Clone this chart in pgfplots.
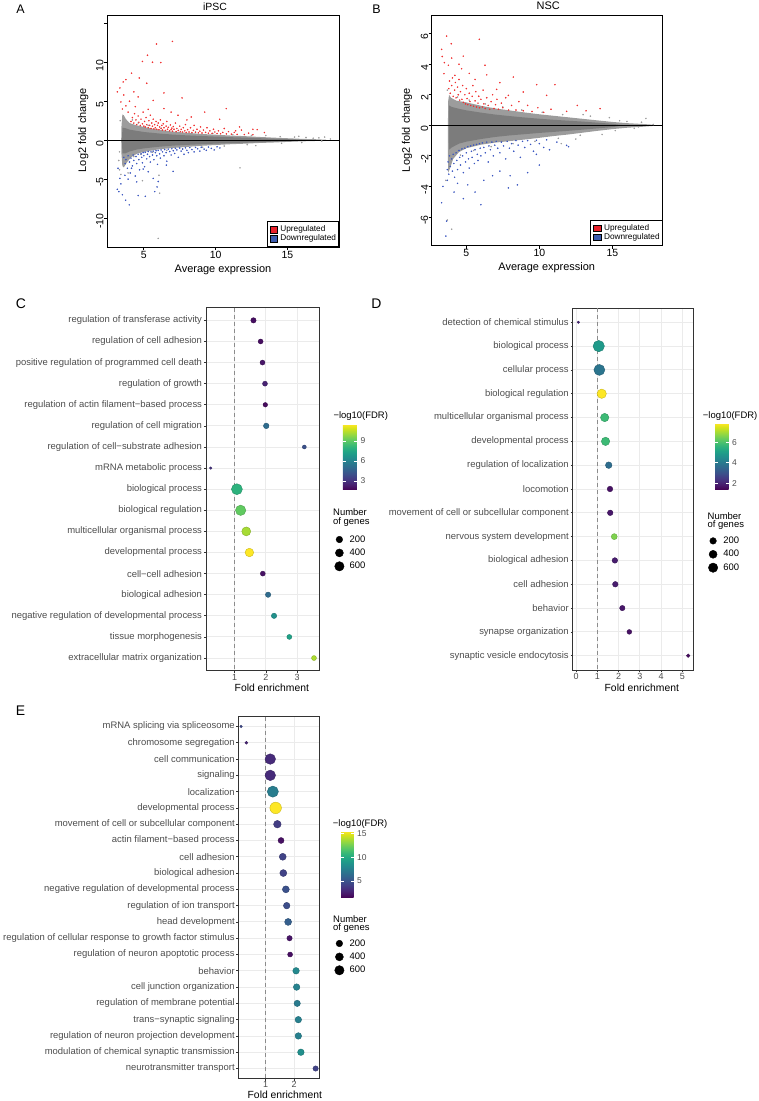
\documentclass[border=0pt]{standalone}
\usepackage{fontspec}
\setmainfont{Liberation Sans}
\usepackage{pgfplots}
\pgfplotsset{compat=1.18}
\usepackage{pgfplotstable}

\definecolor{gg20}{HTML}{333333}
\definecolor{gg30}{HTML}{4D4D4D}
\definecolor{gggrid}{HTML}{EBEBEB}
\definecolor{dashgray}{HTML}{8C8C8C}
\definecolor{upred}{HTML}{F03030}
\definecolor{downblue}{HTML}{3A56C0}
\definecolor{cloudout}{HTML}{9C9C9C}
\definecolor{cloudin}{HTML}{7C7C7C}
\definecolor{legred}{HTML}{E8202A}
\definecolor{legblue}{HTML}{3B5BAE}

\newcommand{\fsz}[1]{\fontsize{#1}{#1}\selectfont}

% ---------- GO enrichment tables: y(row from top) fe(fold enrichment) fdr(-log10 FDR) n(genes)
\pgfplotstableread{
y fe fdr n
1 1.60 2.0 150
2 1.83 2.0 129
3 1.89 2.2 129
4 1.97 2.6 129
5 1.98 1.9 109
6 2.01 5.1 162
7 3.23 4.1 83
8 0.23 3.1 35
9 1.07 8.0 625
10 1.19 9.1 558
11 1.37 10.2 418
12 1.47 11.5 382
13 1.90 2.1 129
14 2.07 5.1 150
15 2.26 6.6 150
16 2.75 7.3 129
17 3.54 10.3 129
}\tblC

\pgfplotstableread{
y fe fdr n
1 0.11 2.1 30
2 1.07 4.9 670
3 1.10 3.9 625
4 1.21 7.85 456
5 1.35 5.8 364
6 1.39 5.8 364
7 1.54 3.7 225
8 1.60 1.7 162
9 1.61 1.8 162
10 1.80 6.6 186
11 1.83 1.9 162
12 1.85 1.9 162
13 2.18 1.8 150
14 2.51 1.7 119
15 5.28 1.6 67
}\tblD

\pgfplotstableread{
y fe fdr n
1 0.13 4.6 35
2 0.32 2.9 46
3 1.16 3.2 580
4 1.16 3.2 580
5 1.25 7.4 648
6 1.35 15.57 695
7 1.41 4.0 298
8 1.54 2.1 186
9 1.60 4.3 253
10 1.62 4.3 253
11 1.71 5.0 253
12 1.74 4.8 225
13 1.79 5.7 253
14 1.84 2.2 150
15 1.86 2.0 129
16 2.07 8.1 225
17 2.09 7.7 225
18 2.11 7.3 212
19 2.15 7.6 225
20 2.15 7.6 225
21 2.24 8.5 225
22 2.76 4.3 150
}\tblE

\pgfplotsset{
  maplot/.style={
    anchor=south west, scale only axis,
    axis line style={draw=black, line width=0.9bp},
    tick style={draw=black, line width=0.8bp},
    major tick length=3.2bp,
    tick align=outside,
    xtick pos=left, ytick pos=left,
    ticklabel style={font=\fsz{10.5}, text=black},
    xticklabel style={anchor=north, inner sep=0pt, yshift=-0.5bp},
    yticklabel style={rotate=90, anchor=south, inner sep=0pt, xshift=-3bp},
    label style={font=\fsz{11}, text=black},
    xtick={5,10,15}, xticklabels={5,10,15},
    xlabel={Average expression},
    ylabel={Log2 fold change},
    legend style={at={(1,0)}, anchor=south east, draw=black, line width=0.8bp, fill=white,
      inner xsep=2.6bp, inner ysep=3.6bp, row sep=0pt, column sep=2.4bp,
      nodes={inner sep=0pt, minimum height=9bp, font=\fsz{8.3}, text=black}},
    legend cell align=left,
  },
  cbar/.style={
    scale only axis,
    at={(parent axis.north east)}, anchor=north west,
    ytick pos=both, yticklabel pos=right,
    tick align=inside,
    major tick length=2.8bp,
    tick style={draw=white, line width=0.7bp},
    axis line style={draw=none},
    yticklabel style={font=\fsz{8.5}, text=gg30, inner sep=0pt, anchor=west, xshift=3.5bp},
    /pgf/number format/assume math mode=true,
  },
  ggdot/.style={
    anchor=south west, scale only axis,
    y dir=reverse,
    axis line style={draw=gg20, line width=0.9bp},
    grid=major, major grid style={draw=gggrid, line width=0.9bp},
    tick style={draw=gg20, line width=0.7bp},
    major tick length=2.2bp,
    tick align=outside,
    xtick pos=left, ytick pos=left,
    yticklabel style={font=\fsz{9.5}, text=gg30, inner sep=0pt, anchor=east, xshift=-1.6bp},
    xticklabel style={font=\fsz{9}, text=gg30, inner sep=0pt, anchor=north, yshift=-0.8bp},
    /pgf/number format/assume math mode=true,
    xlabel={Fold enrichment},
    xlabel style={font=\fsz{10.4}, text=black, anchor=center},
    colormap/viridis,
    colorbar,
    legend style={draw=none, fill=none, inner sep=0pt, column sep=5.3bp, row sep=0pt, anchor=north west,
      nodes={inner sep=0pt, minimum height=13.4bp, font=\fsz{9.5}, text=black}},
    legend cell align=left,
  },
  dots/.style={forget plot, scatter, only marks, mark=*, scatter src=explicit,
    visualization depends on={0.22*sqrt(\thisrow{n}) \as \rr},
    scatter/@pre marker code/.append style={/tikz/mark size=\rr}},
  vline/.style={forget plot, draw=dashgray, line width=1bp, dash pattern=on 4bp off 3bp},
  sizeleg/.code={
    \addlegendimage{legend image code/.code={\fill[black] (0bp,0bp) circle (3.3bp);}}
    \addlegendentry{200}
    \addlegendimage{legend image code/.code={\fill[black] (0bp,0bp) circle (4.0bp);}}
    \addlegendentry{400}
    \addlegendimage{legend image code/.code={\fill[black] (0bp,0bp) circle (4.7bp);}}
    \addlegendentry{600}
  },
}

\begin{document}
\begin{tikzpicture}
\path[use as bounding box] (0,0) rectangle (759bp,1101bp);

% ---------------- Panel A: iPSC MA plot
\begin{axis}[maplot, at={(107bp,854bp)}, width=232bp, height=232bp,
  xmin=2.43, xmax=18.6, ymin=-13.7, ymax=16.06,
  ytick={-10,-5,0,5,10,15}, yticklabels={-10,-5,0,5,10,{}},
  xlabel style={at={(axis description cs:0.5,-0.0961)}, anchor=center},
  ylabel style={at={(axis description cs:-0.102,0.504)}, anchor=center},
]
\addplot[forget plot, fill=cloudout, draw=none] coordinates {
(3.42,0) (3.44,1.8) (3.5,3.3) (3.6,3.2) (3.75,2.7) (4.0,2.2) (4.4,1.95) (5.0,1.7) (5.5,1.5) (6.0,1.35) (7.0,1.1) (8.0,0.95) (9.0,0.8) (10.0,0.7) (11.0,0.6) (12.0,0.52) (13.0,0.42) (14.0,0.33) (15.0,0.25) (16.0,0.17) (17.0,0.12) (17.7,0.06) (17.7,-0.05) (17.0,-0.1) (16.0,-0.15) (15.0,-0.22) (14.0,-0.3) (13.0,-0.36) (12.0,-0.45) (11.0,-0.52) (10.0,-0.62) (9.0,-0.72) (8.0,-0.86) (7.0,-1.0) (6.0,-1.18) (5.0,-1.5) (4.5,-1.75) (4.1,-2.2) (3.8,-2.9) (3.6,-3.5) (3.5,-3.3) (3.44,-1.8)};
\addplot[forget plot, fill=cloudin, draw=none] coordinates {
(3.48,0) (3.5,1.6) (3.7,1.55) (4.0,1.35) (4.5,1.2) (5.0,1.05) (6.0,0.87) (7.0,0.72) (8.0,0.62) (9.0,0.54) (10.0,0.46) (11.0,0.39) (12.0,0.33) (13.0,0.26) (14.0,0.19) (15.0,0.13) (16.0,0.06) (16.4,0) (16.0,-0.07) (15.0,-0.13) (14.0,-0.19) (13.0,-0.25) (12.0,-0.31) (11.0,-0.37) (10.0,-0.44) (9.0,-0.52) (8.0,-0.6) (7.0,-0.7) (6.0,-0.85) (5.0,-1.05) (4.5,-1.2) (4.0,-1.45) (3.7,-1.7) (3.5,-1.7)};
\addplot[forget plot, only marks, mark=*, mark size=0.55bp, color=cloudout] coordinates {
(16.3,0.35) (16.8,0.25) (17.2,0.3) (17.6,0.4) (15.5,0.4) (16.0,-0.3) (14.5,0.45) (15.8,0.5) (17.4,-0.1) (18.0,0.15) (3.3,-3.8) (3.25,-2.6) (3.4,-4.4) (3.9,-4.2) (4.9,-5.2) (6.0,-12.6) (6.05,-4.5) (6.1,-6.8) (3.35,2.5) (3.3,-1.5) (13.5,0.6) (12.8,-0.7) (11.7,-3.55)
(4.2,2.6) (4.6,2.2) (5.3,1.9) (6.2,1.55) (7.4,1.25) (8.6,1.05) (9.8,0.85) (11.2,0.7) (12.5,0.6) (4.3,-2.1) (4.8,-1.8) (5.6,-1.55) (6.6,-1.3) (7.7,-1.1) (9.1,-0.9) (10.6,-0.75) (12.2,-0.58) (14.6,-0.4)};
\addplot[forget plot, black, line width=0.9bp] coordinates {(2.43,0) (18.6,0)};
\addplot[forget plot, only marks, mark=*, mark size=0.55bp, color=upred] coordinates {
(6.99,12.67) (5.88,12.34) (5.25,10.9) (4.9,10.1) (5.6,10.0) (6.18,9.96) (4.14,8.6) (3.75,7.77) (3.56,7.47) (3.33,6.7) (3.15,6.2) (5.2,7.3) (4.68,7.98) (6.4,6.06) (7.66,5.42) (4.3,6.2) (4.6,5.55) (5.65,5.1) (3.4,4.9) (3.75,4.4) (5.3,3.96) (6.4,4.05) (9.24,3.6) (10.74,4.05) (7.38,3.2) (8.3,2.98) (10.28,2.68) (11.67,1.7) (12.6,1.4) (13.4,0.98) (11.4,1.2) (3.6,5.8) (3.9,3.6) (4.0,5.0) (4.4,4.3) (6.9,3.6) (8.0,2.6) (3.5,4.0)
(4.1,2.4) (4.2,2.9) (4.3,2.2) (4.35,3.4) (4.45,2.6) (4.5,2.0) (4.6,3.1) (4.65,2.3) (4.75,1.9) (4.8,2.7) (4.9,2.1) (4.95,3.6) (5.0,1.8)
(5.05,2.4) (5.1,1.7) (5.15,2.9) (5.2,2.0) (5.3,1.6) (5.35,2.5) (5.4,1.9) (5.45,3.2) (5.5,1.5) (5.55,2.2) (5.6,1.8) (5.65,2.7) (5.7,1.45) (5.75,2.0) (5.8,1.6) (5.85,2.4) (5.9,1.4) (5.95,1.9)
(6.0,2.2) (6.05,1.35) (6.1,1.7) (6.15,2.6) (6.2,1.5) (6.25,1.9) (6.3,1.3) (6.35,2.1) (6.4,1.6) (6.5,1.25) (6.55,1.8) (6.6,2.4) (6.65,1.4) (6.7,1.65) (6.8,1.2) (6.85,1.95) (6.9,1.35) (6.95,1.55)
(7.0,1.15) (7.05,1.75) (7.1,1.4) (7.2,2.2) (7.25,1.1) (7.3,1.5) (7.4,1.25) (7.5,1.8) (7.55,1.1) (7.6,1.4) (7.7,1.05) (7.75,1.6) (7.85,1.2) (7.9,2.0) (7.95,1.0)
(8.05,1.35) (8.15,1.05) (8.25,1.6) (8.35,0.98) (8.45,1.25) (8.5,1.9) (8.6,1.0) (8.7,1.4) (8.8,0.95) (8.9,1.15) (8.95,1.7)
(9.05,0.92) (9.15,1.3) (9.3,1.0) (9.4,1.6) (9.5,0.9) (9.6,1.2) (9.75,0.88) (9.85,1.4) (9.95,1.05)
(10.1,0.85) (10.2,1.2) (10.35,0.82) (10.5,1.0) (10.6,1.5) (10.75,0.8) (10.9,1.1)
(11.1,0.78) (11.3,1.0) (11.5,0.75) (11.8,1.3) (12.0,0.72) (12.3,0.9) (12.6,0.7) (12.9,1.35)};
\addplot[forget plot, only marks, mark=*, mark size=0.55bp, color=downblue] coordinates {
(3.15,-6.3) (3.26,-6.6) (3.5,-7.0) (3.73,-7.7) (3.98,-8.3) (4.6,-7.1) (5.76,-6.6) (5.92,-6.0) (4.5,-5.35) (3.68,-4.5) (3.2,-3.6) (3.33,-4.9) (4.14,-3.6) (4.95,-3.7) (5.3,-4.05) (5.65,-4.9) (7.04,-4.0) (6.57,-3.2) (3.4,-5.6) (3.9,-5.0) (6.0,-5.3) (5.1,-7.2)
(3.6,-2.2) (3.7,-3.0) (3.75,-2.5) (3.85,-3.6) (3.9,-2.0) (4.0,-2.8) (4.05,-4.2) (4.1,-2.3) (4.2,-3.3) (4.25,-1.9) (4.3,-2.6) (4.4,-4.6) (4.45,-2.1) (4.5,-3.0) (4.6,-1.8) (4.65,-2.5) (4.7,-3.8) (4.8,-1.75) (4.85,-2.2) (4.9,-2.9) (4.95,-1.6)
(5.0,-2.0) (5.05,-3.4) (5.1,-1.55) (5.2,-2.4) (5.25,-1.8) (5.3,-1.45) (5.4,-2.1) (5.45,-2.8) (5.5,-1.5) (5.6,-1.9) (5.65,-1.4) (5.7,-2.5) (5.8,-1.6) (5.85,-1.35) (5.9,-2.0) (5.95,-3.1)
(6.0,-1.3) (6.1,-1.75) (6.15,-2.3) (6.2,-1.25) (6.3,-1.5) (6.4,-2.0) (6.45,-1.2) (6.55,-1.6) (6.6,-2.7) (6.7,-1.15) (6.8,-1.45) (6.9,-1.9) (6.95,-1.1)
(7.05,-1.35) (7.15,-1.7) (7.2,-1.05) (7.3,-1.25) (7.4,-2.2) (7.5,-1.0) (7.6,-1.4) (7.7,-1.15) (7.8,-1.8) (7.9,-0.98)
(8.0,-1.3) (8.1,-1.6) (8.2,-0.95) (8.35,-1.2) (8.5,-1.5) (8.6,-0.93) (8.75,-1.1) (8.9,-1.4)
(9.0,-0.9) (9.2,-1.15) (9.35,-1.3) (9.5,-0.88) (9.7,-1.05) (9.9,-1.25) (10.1,-0.85) (10.3,-1.0)};
\addlegendimage{legend image code/.code={\draw[fill=legred, draw=black, line width=0.5bp] (-3.85bp,-3.35bp) rectangle (3.85bp,3.35bp);}}
\addlegendentry{Upregulated}
\addlegendimage{legend image code/.code={\draw[fill=legblue, draw=black, line width=0.5bp] (-3.85bp,-3.35bp) rectangle (3.85bp,3.35bp);}}
\addlegendentry{Downregulated}
\end{axis}

% ---------------- Panel B: NSC MA plot
\begin{axis}[maplot, at={(431.7bp,855.3bp)}, width=231bp, height=230.7bp,
  xmin=2.63, xmax=18.45, ymin=-7.88, ymax=7.22,
  ytick={-6,-4,-2,0,2,4,6}, yticklabels={-6,-4,-2,0,2,4,6},
  xlabel style={at={(axis description cs:0.498,-0.0936)}, anchor=center},
  ylabel style={at={(axis description cs:-0.107,0.5015)}, anchor=center},
]
\addplot[forget plot, fill=cloudout, draw=none] coordinates {
(3.74,0) (3.76,1.6) (3.82,2.0) (3.95,1.8) (4.3,1.62) (5.0,1.5) (6.0,1.28) (7.0,1.1) (8.0,0.97) (9.0,0.84) (10.0,0.72) (11.0,0.62) (12.0,0.52) (13.0,0.42) (14.0,0.32) (15.0,0.22) (16.0,0.14) (17.0,0.09) (17.8,0.04) (17.8,-0.04) (17.0,-0.1) (16.0,-0.16) (15.0,-0.25) (14.0,-0.36) (13.0,-0.48) (12.0,-0.6) (11.0,-0.7) (10.0,-0.82) (9.0,-0.93) (8.0,-1.03) (7.0,-1.13) (6.0,-1.27) (5.0,-1.5) (4.5,-1.75) (4.1,-2.2) (3.85,-2.9) (3.76,-3.1) (3.74,-2.0)};
\addplot[forget plot, fill=cloudin, draw=none] coordinates {
(3.8,0) (3.82,1.3) (4.0,1.2) (4.5,1.08) (5.0,0.98) (6.0,0.83) (7.0,0.7) (8.0,0.6) (9.0,0.51) (10.0,0.43) (11.0,0.36) (12.0,0.3) (13.0,0.24) (14.0,0.17) (15.0,0.1) (15.8,0) (15.0,-0.12) (14.0,-0.2) (13.0,-0.28) (12.0,-0.36) (11.0,-0.43) (10.0,-0.5) (9.0,-0.58) (8.0,-0.66) (7.0,-0.76) (6.0,-0.9) (5.0,-1.07) (4.5,-1.2) (4.0,-1.45) (3.82,-1.6)};
\addplot[forget plot, only marks, mark=*, mark size=0.55bp, color=cloudout] coordinates {
(15.5,0.3) (16.0,0.25) (16.5,-0.2) (17.0,0.2) (17.3,0.45) (17.8,0.05) (14.8,0.5) (15.2,-0.35) (16.8,-0.1) (13.5,0.6) (3.7,-6.2) (4.0,-6.8) (3.6,-3.6) (3.7,2.3) (12.5,-0.9) (13.0,0.7) (14.3,-0.6) (11.5,-1.2)
(4.4,1.85) (5.2,1.65) (6.3,1.4) (7.5,1.2) (8.8,1.0) (10.2,0.85) (11.6,0.7) (4.6,-1.95) (5.5,-1.65) (6.7,-1.4) (8.2,-1.2) (9.7,-1.05) (11.3,-0.85) (12.8,-0.65)};
\addplot[forget plot, black, line width=0.9bp] coordinates {(2.63,0) (18.45,0)};
\addplot[forget plot, only marks, mark=*, mark size=0.55bp, color=upred] coordinates {
(3.65,5.84) (5.89,5.63) (3.31,4.97) (4.79,4.53) (3.97,5.34) (3.47,3.38) (3.77,3.93) (4.22,3.27) (4.68,3.7) (6.28,3.93) (7.3,2.79) (8.22,3.16) (9.82,2.66) (11.07,2.66) (10.5,1.96) (8.9,2.18) (7.08,2.35) (7.88,1.96) (14.16,1.09) (11.87,0.91) (3.35,4.5) (3.5,4.1) (4.0,4.4) (4.5,4.0) (5.2,3.4) (5.6,3.0) (6.4,3.3) (12.6,1.3) (13.2,0.95)
(3.8,2.4) (3.85,2.9) (3.9,2.1) (4.0,2.6) (4.05,3.1) (4.1,1.9) (4.2,2.3) (4.25,2.8) (4.3,1.8) (4.4,2.5) (4.45,2.0) (4.5,3.0) (4.55,1.65) (4.6,2.2) (4.7,1.7) (4.75,2.6) (4.8,1.5) (4.9,2.0) (4.95,1.4) (5.0,2.4) (5.05,1.75) (5.1,1.35) (5.2,2.1) (5.25,1.55) (5.3,1.3) (5.4,1.9) (5.45,2.6) (5.5,1.25) (5.6,1.6) (5.65,2.2) (5.7,1.2) (5.8,1.45) (5.85,1.9) (5.9,1.15) (6.0,1.7) (6.1,1.2) (6.15,2.3) (6.2,1.4) (6.3,1.1) (6.4,1.8) (6.5,1.3) (6.6,1.05) (6.7,1.55) (6.8,2.0) (6.9,1.1) (7.0,1.35) (7.1,1.7) (7.2,1.05) (7.4,1.45) (7.5,1.15) (7.7,1.8) (7.9,1.0) (8.1,1.3) (8.4,1.0) (8.6,1.55) (8.9,0.95) (9.2,1.3) (9.5,0.9) (9.9,1.15) (10.3,0.85) (10.8,1.05)};
\addplot[forget plot, only marks, mark=*, mark size=0.55bp, color=downblue] coordinates {
(3.6,-7.25) (3.31,-5.07) (3.65,-6.27) (4.16,-4.37) (4.8,-4.8) (5.6,-4.37) (7.88,-4.1) (8.5,-3.9) (3.4,-4.0) (3.7,-3.6) (4.4,-3.8) (5.1,-3.9) (6.2,-3.6) (6.8,-3.3) (7.3,-3.0) (8.0,-3.3) (9.2,-3.1) (10.0,-2.6) (11.87,-1.31) (11.2,-1.1) (12.0,-1.4) (10.7,-1.6) (9.8,-1.9) (6.0,-5.2)
(3.7,-2.9) (3.75,-2.4) (3.8,-3.2) (3.85,-2.0) (3.9,-2.7) (4.0,-2.2) (4.05,-3.0) (4.1,-1.9) (4.15,-2.5) (4.2,-3.4) (4.3,-1.8) (4.35,-2.3) (4.4,-2.9) (4.5,-1.65) (4.55,-2.1) (4.6,-2.6) (4.7,-1.55) (4.75,-2.0) (4.8,-3.1) (4.9,-1.5) (4.95,-2.4) (5.0,-1.8) (5.1,-1.4) (5.15,-2.2) (5.2,-2.8) (5.3,-1.35) (5.35,-1.7) (5.4,-2.1) (5.5,-1.3) (5.55,-2.5) (5.6,-1.6) (5.7,-1.25) (5.75,-1.9) (5.8,-2.3) (5.9,-1.2) (5.95,-1.5) (6.0,-2.0) (6.1,-1.15) (6.2,-1.45) (6.3,-1.8) (6.4,-1.1) (6.5,-2.4) (6.55,-1.35) (6.65,-1.6) (6.75,-1.1) (6.85,-2.0) (6.95,-1.3) (7.05,-1.05) (7.15,-1.5) (7.3,-1.8) (7.4,-1.1) (7.55,-1.35) (7.7,-2.2) (7.8,-1.05) (7.95,-1.5) (8.1,-1.2) (8.25,-1.7) (8.4,-1.0) (8.55,-1.3) (8.7,-2.1) (8.85,-1.05) (9.0,-1.45) (9.2,-1.0) (9.4,-1.25) (9.6,-1.7) (9.8,-0.98) (10.0,-1.2) (10.3,-1.45) (10.5,-0.95)};
\addlegendimage{legend image code/.code={\draw[fill=legred, draw=black, line width=0.5bp] (-3.85bp,-3.35bp) rectangle (3.85bp,3.35bp);}}
\addlegendentry{Upregulated}
\addlegendimage{legend image code/.code={\draw[fill=legblue, draw=black, line width=0.5bp] (-3.85bp,-3.35bp) rectangle (3.85bp,3.35bp);}}
\addlegendentry{Downregulated}
\end{axis}

% ---------------- Panel C
\begin{axis}[ggdot, at={(206bp,430.3bp)}, width=113.3bp, height=363bp,
  xmin=0.08, xmax=3.71, ymin=0.4, ymax=17.6,
  xtick={1,2,3},
  ytick={1,...,17},
  yticklabels={regulation of transferase activity, regulation of cell adhesion, positive regulation of programmed cell death, regulation of growth, regulation of actin filament−based process, regulation of cell migration, regulation of cell−substrate adhesion, mRNA metabolic process, biological process, biological regulation, multicellular organismal process, developmental process, cell−cell adhesion, biological adhesion, negative regulation of developmental process, tissue morphogenesis, extracellular matrix organization},
  xlabel style={at={(axis description cs:0.581,0)}, yshift=-17bp},
  point meta min=1.65, point meta max=11.5,
  colorbar style={cbar, xshift=15bp, yshift=-116.6bp, width=14bp, height=65.7bp, ytick={3,6,9}},
  legend style={at={(1.1324,0.3804)}},
]
\addplot[vline] coordinates {(1,0.4) (1,17.6)};
\addplot[dots] table[x=fe, y=y, meta=fdr] \tblC;
\pgfplotsset{sizeleg}
\end{axis}

% ---------------- Panel D
\begin{axis}[ggdot, at={(572.7bp,431bp)}, width=120.6bp, height=362bp,
  xmin=-0.155, xmax=5.52, ymin=0.4, ymax=15.6,
  xtick={0,1,2,3,4,5},
  ytick={1,...,15},
  yticklabels={detection of chemical stimulus, biological process, cellular process, biological regulation, multicellular organismal process, developmental process, regulation of localization, locomotion, movement of cell or subcellular component, nervous system development, biological adhesion, cell adhesion, behavior, synapse organization, synaptic vesicle endocytosis},
  xlabel style={at={(axis description cs:0.573,0)}, yshift=-18bp},
  point meta min=1.41, point meta max=7.85,
  colorbar style={cbar, xshift=13.4bp, yshift=-115.3bp, width=13.3bp, height=66bp, ytick={2,4,6}},
  legend style={at={(1.1219,0.3757)}},
]
\addplot[vline] coordinates {(1,0.4) (1,15.6)};
\addplot[dots] table[x=fe, y=y, meta=fdr] \tblD;
\pgfplotsset{sizeleg}
\end{axis}

% ---------------- Panel E
\begin{axis}[ggdot, at={(238.7bp,22.7bp)}, width=80.6bp, height=361.6bp,
  xmin=0.046, xmax=2.89, ymin=0.4, ymax=22.6,
  xtick={1,2},
  ytick={1,...,22},
  yticklabels={mRNA splicing via spliceosome, chromosome segregation, cell communication, signaling, localization, developmental process, movement of cell or subcellular component, actin filament−based process, cell adhesion, biological adhesion, negative regulation of developmental process, regulation of ion transport, head development, regulation of cellular response to growth factor stimulus, regulation of neuron apoptotic process, behavior, cell junction organization, regulation of membrane potential, trans−synaptic signaling, regulation of neuron projection development, modulation of chemical synaptic transmission, neurotransmitter transport},
  xlabel style={at={(axis description cs:0.572,0)}, yshift=-16bp},
  point meta min=1.5, point meta max=15.57,
  colorbar style={cbar, xshift=13.4bp, yshift=-114.3bp, width=12.3bp, height=66.7bp, ytick={5,10,15}},
  legend style={at={(1.1861,0.3919)}},
]
\addplot[vline] coordinates {(1,0.4) (1,22.6)};
\addplot[dots] table[x=fe, y=y, meta=fdr] \tblE;
\pgfplotsset{sizeleg}
\end{axis}

% ---------------- titles, legend titles and panel letters
\node[anchor=base, inner sep=0pt, font=\fsz{10.5}] at (215bp,1090.5bp) {iPSC};
\node[anchor=base, inner sep=0pt, font=\fsz{11}] at (548.3bp,1091bp) {NSC};
\node[anchor=base west, inner sep=0pt, font=\fsz{9.5}] at (333.3bp,682.3bp) {−log10(FDR)};
\node[anchor=base west, inner sep=0pt, font=\fsz{9.5}] at (702.7bp,682.7bp) {−log10(FDR)};
\node[anchor=base west, inner sep=0pt, font=\fsz{9.5}] at (332.7bp,274.7bp) {−log10(FDR)};
\node[anchor=base west, inner sep=0pt, font=\fsz{9.5}] at (333bp,585bp) {Number};
\node[anchor=base west, inner sep=0pt, font=\fsz{9.5}] at (333bp,576bp) {of genes};
\node[anchor=base west, inner sep=0pt, font=\fsz{9.5}] at (707.5bp,581.3bp) {Number};
\node[anchor=base west, inner sep=0pt, font=\fsz{9.5}] at (707.5bp,573.2bp) {of genes};
\node[anchor=base west, inner sep=0pt, font=\fsz{9.5}] at (333bp,178.9bp) {Number};
\node[anchor=base west, inner sep=0pt, font=\fsz{9.5}] at (333bp,170.2bp) {of genes};

\node[anchor=base, inner sep=0pt, font=\fsz{12.5}] at (20.5bp,1087.7bp) {A};
\node[anchor=base, inner sep=0pt, font=\fsz{12.5}] at (376.5bp,1087.7bp) {B};
\node[anchor=base, inner sep=0pt, font=\fsz{14}] at (20.8bp,792.7bp) {C};
\node[anchor=base, inner sep=0pt, font=\fsz{14}] at (376.5bp,792.7bp) {D};
\node[anchor=base, inner sep=0pt, font=\fsz{14}] at (20.5bp,385bp) {E};
\end{tikzpicture}
\end{document}
